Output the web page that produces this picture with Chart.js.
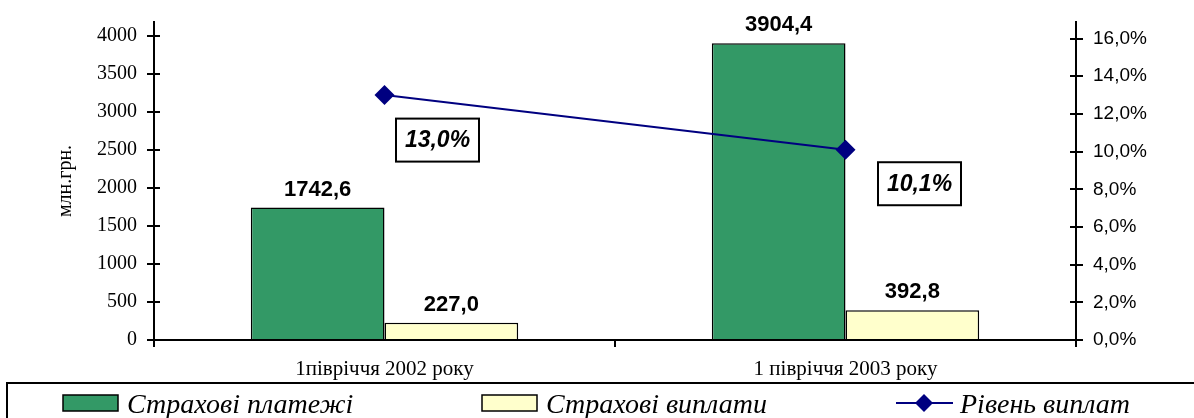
<!DOCTYPE html>
<html>
<head>
<meta charset="utf-8">
<script src="https://cdn.jsdelivr.net/npm/chart.js@4.4.1/dist/chart.umd.min.js"></script>
<style>
    body { margin: 0; background: #fff; }
    canvas { display: block; }
</style>
</head>
<body>
<canvas id="chartStrah" width="1194" height="418"></canvas>
<script>
var categories = ['1півріччя 2002 року', '1 півріччя 2003 року'];
var platezhi = [1742.6, 3904.4];
var vyplaty = [227.0, 392.8];
var rivenVyplat = [13.0, 10.1];
var leftTicks = [0, 500, 1000, 1500, 2000, 2500, 3000, 3500, 4000];
var rightTicks = [0, 2, 4, 6, 8, 10, 12, 14, 16];

var serif = '"Liberation Serif", "Times New Roman", serif';
var sans = '"Liberation Sans", Arial, sans-serif';

// offset of the percent boxes from their points
var boxOffsets = [[53, 45], [74, 34]];

function fmt(v, d) {
    return v.toFixed(d).replace('.', ',');
}

function diamond(ctx, x, y, r) {
    ctx.beginPath();
    ctx.moveTo(x, y - r);
    ctx.lineTo(x + r, y);
    ctx.lineTo(x, y + r);
    ctx.lineTo(x - r, y);
    ctx.closePath();
    ctx.fill();
}

var decorPlugin = {
    id: 'decor',
    afterDatasetsDraw: function(chart) {
        var ctx = chart.ctx;
        ctx.save();
        // valori sopra le barre
        ctx.font = 'bold 22px ' + sans;
        ctx.fillStyle = '#000';
        ctx.textAlign = 'center';
        ctx.textBaseline = 'alphabetic';
        [0, 1].forEach(function(di) {
            chart.getDatasetMeta(di).data.forEach(function(bar, i) {
                ctx.fillText(fmt(chart.data.datasets[di].data[i], 1), bar.x, bar.y - 12);
            });
        });

        // riquadri percentuali
        ctx.font = 'italic bold 23px ' + sans;
        ctx.textBaseline = 'middle';
        chart.getDatasetMeta(2).data.forEach(function(pt, i) {
            var cx = pt.x + boxOffsets[i][0];
            var cy = pt.y + boxOffsets[i][1];
            ctx.fillStyle = '#fff';
            ctx.fillRect(cx - 41.5, cy - 21.5, 83, 43);
            ctx.strokeStyle = '#000';
            ctx.lineWidth = 2;
            ctx.strokeRect(cx - 41.5, cy - 21.5, 83, 43);
            ctx.fillStyle = '#000';
            ctx.fillText(fmt(rivenVyplat[i], 1) + '%', cx, cy + 1);
        });
        ctx.restore();
    },
    afterDraw: function(chart) {
        var ctx = chart.ctx;
        var area = chart.chartArea;
        ctx.save();

        // tacche interne (cross)
        ctx.strokeStyle = '#000';
        ctx.lineWidth = 2;
        ctx.beginPath();
        leftTicks.forEach(function(v) {
            var y = Math.round(chart.scales.y.getPixelForValue(v));
            ctx.moveTo(area.left, y);
            ctx.lineTo(area.left + 6, y);
        });
        rightTicks.forEach(function(v) {
            var y = Math.round(chart.scales.y1.getPixelForValue(v));
            ctx.moveTo(area.right - 6, y);
            ctx.lineTo(area.right, y);
        });
        ctx.stroke();

        // titolo asse
        ctx.save();
        ctx.translate(66, 181);
        ctx.rotate(-Math.PI / 2);
        ctx.font = '20px ' + serif;
        ctx.fillStyle = '#000';
        ctx.textAlign = 'center';
        ctx.textBaseline = 'middle';
        ctx.fillText('млн.грн.', 0, 0);
        ctx.restore();

        // legenda
        ctx.lineWidth = 2;
        ctx.strokeRect(7, 383, 1200, 60);
        var items = [
            { x: 63, ds: 0, kind: 'box' },
            { x: 482, ds: 1, kind: 'box' },
            { x: 896, ds: 2, kind: 'line' }
        ];
        ctx.font = 'italic 28px ' + serif;
        ctx.textAlign = 'left';
        ctx.textBaseline = 'alphabetic';
        items.forEach(function(it) {
            var ds = chart.data.datasets[it.ds];
            if (it.kind == 'box') {
                ctx.fillStyle = ds.backgroundColor;
                ctx.fillRect(it.x, 395, 55, 16);
                ctx.lineWidth = 1.5;
                ctx.strokeStyle = '#000';
                ctx.strokeRect(it.x, 395, 55, 16);
            } else {
                ctx.strokeStyle = ds.borderColor;
                ctx.lineWidth = 2;
                ctx.beginPath();
                ctx.moveTo(it.x, 403);
                ctx.lineTo(it.x + 57, 403);
                ctx.stroke();
                ctx.fillStyle = ds.borderColor;
                diamond(ctx, it.x + 28, 403, 9);
            }
            ctx.fillStyle = '#000';
            ctx.fillText(ds.label, it.x + 64, 413);
        });
        ctx.restore();
    }
};

var ctx = document.getElementById('chartStrah').getContext('2d');
var chart = new Chart(ctx, {
    data: {
        labels: categories,
        datasets: [{
            type: 'bar',
            label: 'Страхові платежі',
            data: platezhi,
            backgroundColor: '#339966',
            borderColor: '#000',
            borderWidth: 1.5,
            yAxisID: 'y',
            order: 1
        }, {
            type: 'bar',
            label: 'Страхові виплати',
            data: vyplaty,
            backgroundColor: '#FFFFCC',
            borderColor: '#000',
            borderWidth: 1.5,
            yAxisID: 'y',
            order: 1
        }, {
            type: 'line',
            label: 'Рівень виплат',
            data: rivenVyplat,
            borderColor: '#000080',
            backgroundColor: '#000080',
            borderWidth: 2,
            pointStyle: 'rectRot',
            pointRadius: 10,
            pointBackgroundColor: '#000080',
            pointBorderWidth: 0,
            yAxisID: 'y1',
            order: 0
        }]
    },
    options: {
        responsive: false,
        animation: false,
        layout: { padding: { top: 22, left: 0, right: 0, bottom: 0 } },
        datasets: {
            bar: { categoryPercentage: 0.58, barPercentage: 1 }
        },
        plugins: {
            legend: { display: false },
            tooltip: { enabled: false }
        },
        scales: {
            x: {
                offset: true,
                grid: { offset: true, drawOnChartArea: false, tickLength: 7, color: '#000', lineWidth: 2 },
                border: { color: '#000', width: 2 },
                ticks: { color: '#000', font: { family: serif, size: 21 }, padding: 10, maxRotation: 0 },
                afterFit: function(scale) { scale.height = 78; }
            },
            y: {
                position: 'left',
                min: 0,
                max: 4184,
                afterBuildTicks: function(scale) {
                    scale.ticks = leftTicks.map(function(v) { return { value: v }; });
                },
                grid: { drawOnChartArea: false, tickLength: 7, color: '#000', lineWidth: 2 },
                border: { color: '#000', width: 2 },
                ticks: {
                    color: '#000',
                    font: { family: serif, size: 20 },
                    padding: 10,
                    callback: function(v) { return String(v); }
                },
                afterFit: function(scale) { scale.width = 154; }
            },
            y1: {
                position: 'right',
                min: 0,
                max: 16.88,
                afterBuildTicks: function(scale) {
                    scale.ticks = rightTicks.map(function(v) { return { value: v }; });
                },
                grid: { drawOnChartArea: false, tickLength: 7, color: '#000', lineWidth: 2 },
                border: { color: '#000', width: 2 },
                ticks: {
                    color: '#000',
                    font: { family: sans, size: 19 },
                    padding: 10,
                    callback: function(v) { return fmt(v, 1) + '%'; }
                },
                afterFit: function(scale) { scale.width = 118; }
            }
        }
    },
    plugins: [decorPlugin]
});
</script>
</body>
</html>
